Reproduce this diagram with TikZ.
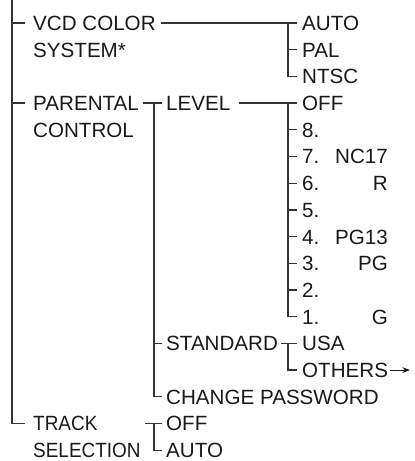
\documentclass[tikz,border=0pt]{standalone}
\usepackage{fontspec}
\setmainfont{Liberation Sans}
\newfontfamily\narrowsans{Liberation Sans}[FakeStretch=0.92]
\usetikzlibrary{positioning,arrows.meta}

\begin{document}
\begin{tikzpicture}[
  x=1pt, y=-1pt,
  >=Stealth,
  every node/.style={font=\fontsize{20.6}{20.6}\selectfont, inner sep=0pt, text height=14.8pt, text depth=0pt, text=black!90},
  itm/.style={anchor=west},
  narrow/.style={anchor=west, font=\narrowsans\fontsize{20.6}{20.6}\selectfont},
  rate/.style={anchor=east},
  ln/.style={draw=black!80, line width=1.3pt},
  arr/.style={->, draw=black!90, line width=1pt}
]
\useasboundingbox (0,0) rectangle (415,461);
\coordinate (top) at (12,0);
\node[itm] (vcd) at (33,23) {VCD COLOR};
\node[itm] (sys) at (33,49.7) {SYSTEM*};
\node[itm] (cauto) at (302,23) {AUTO};
\node[itm] (cpal) at (302,49.7) {PAL};
\node[itm] (cntsc) at (302,76.4) {NTSC};
\node[itm] (par) at (33,103.1) {PARENTAL};
\node[itm] (ctl) at (33,129.8) {CONTROL};
\node[itm] (lev) at (166,103.1) {LEVEL};
\node[itm] (loff) at (302,103.1) {OFF};
\foreach \n/\r [count=\i from 4] in {8/,7/NC17,6/R,5/,4/PG13,3/PG,2/,1/G}{
  \node[itm] (l\n) at (302,23+26.7*\i) {\n.};
  \node[rate] (r\n) at (388,23+26.7*\i) {\r};
}
\node[itm] (std) at (166,343.4) {STANDARD};
\node[itm] (usa) at (302,343.4) {USA};
\node[itm] (oth) at (302,370.1) {OTHERS};
\node[itm] (chg) at (166,396.8) {CHANGE PASSWORD};
\node[narrow] (trk) at (33,423.5) {TRACK};
\node[narrow] (sel) at (33,450.2) {SELECTION};
\node[itm] (toff) at (166,423.5) {OFF};
\node[itm] (tauto) at (166,450.2) {AUTO};
\coordinate (go) at (410,370.1);

\draw[ln] (top) |- ([xshift=-8pt]trk.west);
\draw[ln] ([xshift=-21pt]vcd.west) -- ([xshift=-8pt]vcd.west);
\draw[ln] ([xshift=-21pt]par.west) -- ([xshift=-8pt]par.west);
\draw[ln] ([xshift=5pt]vcd.east) -- ([xshift=-5pt]cauto.west);
\draw[ln] ([xshift=-14pt]cauto.west) |- ([xshift=-5pt]cntsc.west);
\draw[ln] ([xshift=-14pt]cpal.west) -- ([xshift=-5pt]cpal.west);
\draw[ln] ([xshift=4pt]par.east) -- ([xshift=-4pt]lev.west);
\draw[ln] ([xshift=-12pt]lev.west) |- ([xshift=-4pt]chg.west);
\draw[ln] ([xshift=-12pt]std.west) -- ([xshift=-4pt]std.west);
\draw[ln] ([xshift=8pt]lev.east) -- ([xshift=-5pt]loff.west);
\draw[ln] ([xshift=-14pt]loff.west) |- ([xshift=-5pt]l1.west);
\foreach \n in {8,...,2}
  \draw[ln] ([xshift=-14pt]l\n.west) -- ([xshift=-5pt]l\n.west);
\draw[ln] ([xshift=3pt]std.east) -- ([xshift=-5pt]usa.west);
\draw[ln] ([xshift=-14pt]usa.west) |- ([xshift=-5pt]oth.west);
\draw[arr] ([xshift=2pt]oth.east) -- (go);
\draw[ln] ([xshift=4pt]sel.east |- toff.west) -- ([xshift=-4pt]toff.west);
\draw[ln] ([xshift=-12pt]toff.west) |- ([xshift=-4pt]tauto.west);
\end{tikzpicture}
\end{document}
